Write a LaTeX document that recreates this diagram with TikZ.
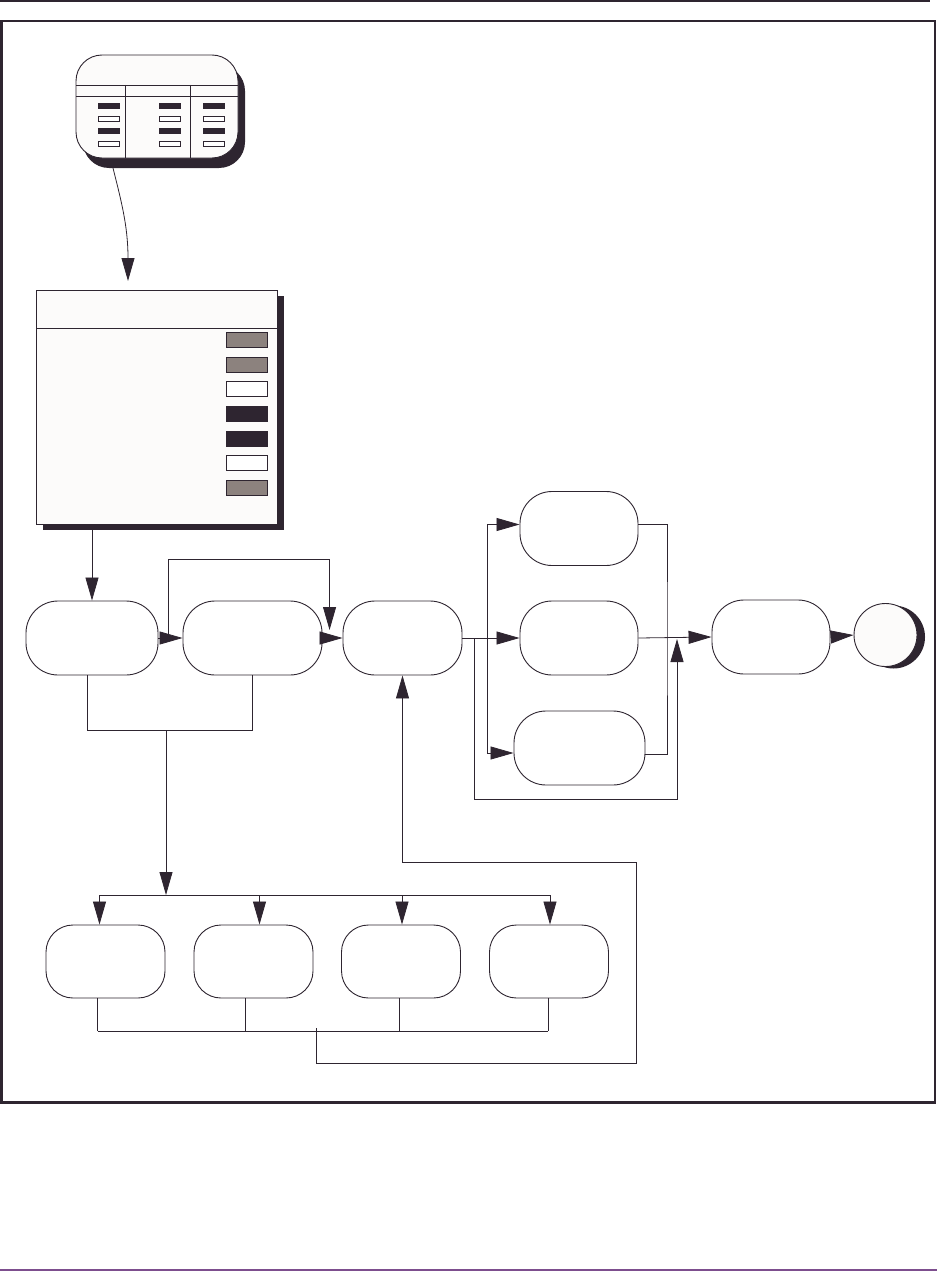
\documentclass[tikz,border=0pt]{standalone}
\usetikzlibrary{arrows.meta,shadows}

\definecolor{ink}{RGB}{46,37,48}
\definecolor{swgrey}{RGB}{140,130,126}
\definecolor{paper}{RGB}{252,251,250}
\definecolor{rulecol}{RGB}{125,78,142}

\tikzset{
  link/.style={draw=ink,line width=0.8pt},
  arr/.style={link,-{Triangle[length=23pt,width=13pt]}},
  stage/.style={draw=ink,fill=white,line width=0.9pt,rounded corners=32pt,
    minimum height=74pt,inner sep=0pt},
  task/.style={draw=ink,fill=white,line width=0.9pt,rounded corners=27pt,
    minimum width=119pt,minimum height=73pt,inner sep=0pt},
  card/.style={draw=ink,fill=paper,line width=0.9pt,inner sep=0pt},
  swatch/.style={draw=ink,line width=0.9pt},
}

\begin{document}
\begin{tikzpicture}[x=1pt,y=-1pt]
  \useasboundingbox (0,0) rectangle (937,1271);
  % page rules and frame
  \draw[ink,line width=2.5pt] (0,1.2) -- (930,1.2);
  \draw[ink,line width=2.5pt] (1.5,21) rectangle (935,1102.5);
  \draw[rulecol,line width=1.2pt] (0,1270) -- (937,1270);

  % legend bubble
  \node[card,rounded corners=26pt,minimum width=162pt,minimum height=103pt,
        drop shadow={shadow xshift=7pt,shadow yshift=-10pt,fill=ink,opacity=1}] (legend) at (157,106.5) {};
  \draw[link] (76,85) -- (238,85) (76,96) -- (238,96);
  \draw[link] (125,85) -- (125,158) (190,85) -- (190,158);
  \foreach \x in {98,159,203} {
    \foreach \y/\c in {103/ink,116/white,128/ink,141/white} {
      \draw[swatch,line width=0.7pt,fill=\c] (\x,\y) rectangle ++(21,5.5);
    }
  }

  % settings panel
  \node[card,minimum width=241pt,minimum height=234pt,
        drop shadow={shadow xshift=7pt,shadow yshift=-6pt,fill=ink,opacity=1}] (panel) at (156.5,407) {};
  \draw[link] (36,328) -- (277,328);
  \foreach \y/\c in {332/swgrey,357/swgrey,381/white,406/ink,431/ink,455/white,480/swgrey} {
    \draw[swatch,fill=\c] (226,\y) rectangle ++(41,15);
  }
  \coordinate (tail) at (111,160);
  \coordinate (drop) at (128,281);
  \draw[arr] (tail) .. controls (121,200) and (128,225) .. (drop);

  % stages
  \node[stage,minimum width=132pt] (A) at (92,638) {};
  \node[stage,minimum width=139pt] (B) at (252.5,638) {};
  \node[stage,minimum width=119pt] (C) at (402.5,638) {};
  \node[stage,minimum width=118pt] (E1) at (579,528.5) {};
  \node[stage,minimum width=118pt] (E2) at (579,638) {};
  \node[stage,minimum width=131pt] (E3) at (579.5,748) {};
  \node[stage,minimum width=118pt] (F) at (771,637) {};
  \node[card,circle,minimum size=63pt,
        drop shadow={shadow xshift=8pt,shadow yshift=-2pt,fill=ink,opacity=1}] (G) at (885.5,635) {};
  \foreach \i/\x in {1/105.5,2/253.5,3/401,4/549} {
    \node[task] (D\i) at (\x,961.5) {};
  }

  % main flow
  \draw[arr] (panel.south -| A.north) -- (A.north);
  \draw[arr] (A.east) -- (B.west);
  \draw[arr] (B.east) -- (C.west);
  \draw[arr] ([xshift=10pt]A.east) -- ++(0,-79) -| ([xshift=-13pt,yshift=8pt]C.west);

  % out to the tasks
  \draw[link] ([xshift=-5pt]A.south) -- ++(0,55) -| (B.south);
  \coordinate (bus) at (166,730);
  \coordinate (fan) at (166,895);
  \draw[arr] (bus) -- (fan);
  \foreach \i/\dx in {1/-6,2/6,3/1,4/1} {
    \coordinate (in\i) at ([xshift=\dx pt]D\i.north);
    \draw[arr] (in\i |- fan) -- (in\i);
  }
  \draw[link] (in1 |- fan) -- (in4 |- fan);

  % back to C
  \coordinate (join) at (316,1031);
  \foreach \i/\dx in {1/-8,2/-8,3/-2,4/-1} {
    \coordinate (out\i) at ([xshift=\dx pt]D\i.south);
    \draw[link] (out\i) -- (out\i |- join);
  }
  \draw[link] (out1 |- join) -- (out4 |- join);
  \draw[arr] ([yshift=3pt]join) -- ++(0,35) -| (636,862) -| (C.south);

  % branches
  \coordinate (fork) at (487,638);
  \coordinate (merge) at (667,638);
  \draw[arr] (C.east) -- (E2.west);
  \draw[arr] (fork) |- ([yshift=4pt]E1.west);
  \draw[arr] (fork) |- ([yshift=-5pt]E3.west);
  \draw[link] ([yshift=4pt]E1.east) -| (merge) |- ([yshift=-6pt]E3.east);
  \draw[arr] (E2.east) -- (F.west);
  \coordinate (skip) at (474,638);
  \coordinate (rejoin) at (677,639);
  \draw[arr] (skip) -- (skip |- 0,799) -| (rejoin);
  \draw[arr] (F.east) -- (G.west);
\end{tikzpicture}
\end{document}
